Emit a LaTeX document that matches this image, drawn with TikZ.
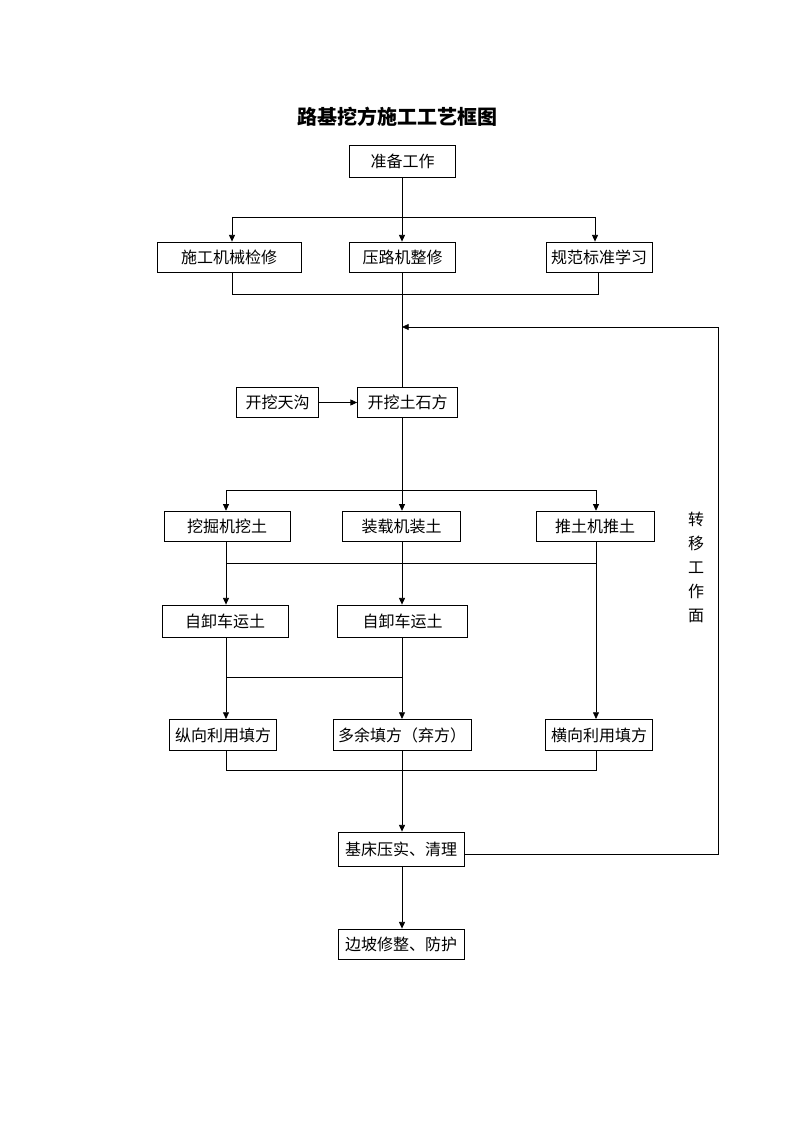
\documentclass[tikz,border=0pt]{standalone}
\usepackage{fontspec}
\usepackage{tikz}
\usetikzlibrary{arrows.meta}
\newfontfamily\cjk{Noto Sans CJK SC}
\tikzset{
  box/.style={draw, line width=0.6pt, inner sep=0pt, font=\cjk\fontsize{12}{14}\selectfont},
  arr/.style={-{Triangle[length=5pt,width=4.5pt]}},
}
\begin{document}
\begin{tikzpicture}[x=0.75pt,y=-0.75pt,line width=0.6pt]
\useasboundingbox (0,0) rectangle (794,1123);
\node[font=\cjk\bfseries\fontsize{15}{18}\selectfont] (title) at (397,117) {路基挖方施工工艺框图};
\node[box,minimum width=80pt,minimum height=24pt] (prep) at (402.5,161) {准备工作};
\node[box,minimum width=108pt,minimum height=22.5pt] (insp) at (229,257) {施工机械检修};
\node[box,minimum width=80pt,minimum height=22.5pt] (roll) at (402.5,257) {压路机整修};
\node[box,minimum width=79.5pt,minimum height=22.5pt] (std) at (599,257) {规范标准学习};
\node[box,minimum width=61pt,minimum height=23pt] (ditch) at (277.5,402.5) {开挖天沟};
\node[box,minimum width=75pt,minimum height=23pt] (dig) at (407.5,402.5) {开挖土石方};
\node[box,minimum width=94.5pt,minimum height=23pt] (exc) at (227,526.5) {挖掘机挖土};
\node[box,minimum width=89pt,minimum height=23pt] (load) at (401.5,526.5) {装载机装土};
\node[box,minimum width=88.5pt,minimum height=23pt] (doz) at (595,526.5) {推土机推土};
\node[box,minimum width=94.5pt,minimum height=24pt] (truckA) at (225,621) {自卸车运土};
\node[box,minimum width=98pt,minimum height=24pt] (truckB) at (402.5,621) {自卸车运土};
\node[box,minimum width=80pt,minimum height=23.5pt] (fillL) at (223,735) {纵向利用填方};
\node[box,minimum width=103.5pt,minimum height=23.5pt] (fillM) at (402,735) {多余填方（弃方）};
\node[box,minimum width=80pt,minimum height=23.5pt] (fillR) at (599,735) {横向利用填方};
\node[box,minimum width=94.5pt,minimum height=25.5pt] (comp) at (401,849) {基床压实、清理};
\node[box,minimum width=94.5pt,minimum height=22.5pt] (slope) at (401,944) {边坡修整、防护};
\node[font=\cjk\fontsize{12}{18}\selectfont,align=center] (turn) at (696,567) {转\\移\\工\\作\\面};
\coordinate (a1) at (232,217);
\coordinate (a3) at (595,217);
\coordinate (b1) at (232,294);
\coordinate (b3) at (598,294);
\coordinate (c1) at (226,490);
\coordinate (c2) at (402,490);
\coordinate (c3) at (596,490);
\coordinate (d1) at (226,563);
\coordinate (d2) at (402,563);
\coordinate (d3) at (596,563);
\coordinate (e1) at (226,677);
\coordinate (e2) at (402,677);
\coordinate (g1) at (226,770);
\coordinate (g2) at (402,770);
\coordinate (g3) at (596,770);
\coordinate (f0) at (402,327);
\coordinate (f1) at (718,327);
\coordinate (f2) at (718,854);
\draw[arr] (prep.south -| c2) -- (c2 |- roll.north);
\draw (a1) -- (a3);
\draw[arr] (a1) -- (a1 |- insp.north);
\draw[arr] (a3) -- (a3 |- std.north);
\draw (insp.south -| b1) -- (b1) -- (b3) -- (std.south -| b3);
\draw (roll.south -| c2) -- (c2 |- dig.north);
\draw[arr] (ditch) -- (dig);
\draw[arr] (f2 -| comp.east) -- (f2) -- (f1) -- (f0);
\draw[arr] (dig.south -| c2) -- (c2 |- load.north);
\draw (c1) -- (c3);
\draw[arr] (c1) -- (c1 |- exc.north);
\draw[arr] (c3) -- (c3 |- doz.north);
\draw (d1) -- (d3);
\draw[arr] (exc.south -| d1) -- (d1 |- truckA.north);
\draw[arr] (load.south -| d2) -- (d2 |- truckB.north);
\draw[arr] (doz.south -| d3) -- (d3 |- fillR.north);
\draw (e1) -- (e2);
\draw[arr] (truckA.south -| e1) -- (e1 |- fillL.north);
\draw[arr] (truckB.south -| e2) -- (e2 |- fillM.north);
\draw (fillL.south -| g1) -- (g1) -- (g3) -- (fillR.south -| g3);
\draw[arr] (fillM.south -| g2) -- (g2 |- comp.north);
\draw[arr] (comp.south -| g2) -- (g2 |- slope.north);
\end{tikzpicture}
\end{document}
